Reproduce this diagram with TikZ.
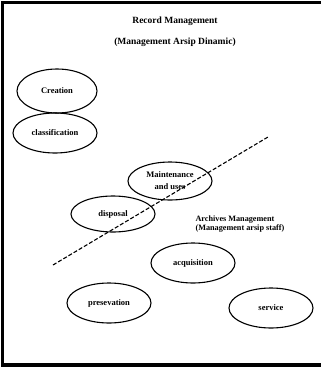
\documentclass[tikz,border=0pt]{standalone}
\usepackage{fontspec}
\setmainfont{Liberation Serif}
\usetikzlibrary{shapes.geometric}
\begin{document}
\begin{tikzpicture}[x=1pt,y=-1pt,
  oval/.style={ellipse,draw,line width=1.1pt,minimum width=84pt,minimum height=40pt,inner sep=0pt,
    font=\bfseries\fontsize{8.5}{12}\selectfont,align=center},
  heading/.style={font=\bfseries\fontsize{9.5}{11}\selectfont},
  note/.style={font=\bfseries\fontsize{8.2}{9.5}\selectfont,align=left,anchor=west}]
  \useasboundingbox (0,0) rectangle (321,368);
  % outer frame (runs past the right edge)
  \draw[line width=3.5pt] (330,2.5) -- (2.5,2.5) -- (2.5,365) -- (330,365);
  % titles
  \node[heading] (t1) at (175,21) {Record Management};
  \node[heading] (t2) at (175,42) {(Management Arsip Dinamic)};
  % activity ovals
  \node[oval,minimum width=80pt,minimum height=44pt] (creation) at (57,91) {Creation};
  \node[oval] (class) at (55,133) {classification};
  \node[oval,minimum height=38pt] (maint) at (170,181) {Maintenance\\and uses};
  \node[oval,minimum height=36pt] (disp) at (113,214) {disposal};
  \node[oval] (acq) at (193,263) {acquisition};
  \node[oval] (pres) at (109,303) {presevation};
  \node[oval] (serv) at (271,308) {service};
  % boundary between the two management domains
  \coordinate (d1) at (53,265);
  \coordinate (d2) at (268,137);
  \draw[dashed,line width=1.1pt,dash pattern=on 4pt off 2pt] (d1) -- (d2);
  \node[note] (arch) at (192,224) {Archives Management\\(Management arsip staff)};
\end{tikzpicture}
\end{document}
